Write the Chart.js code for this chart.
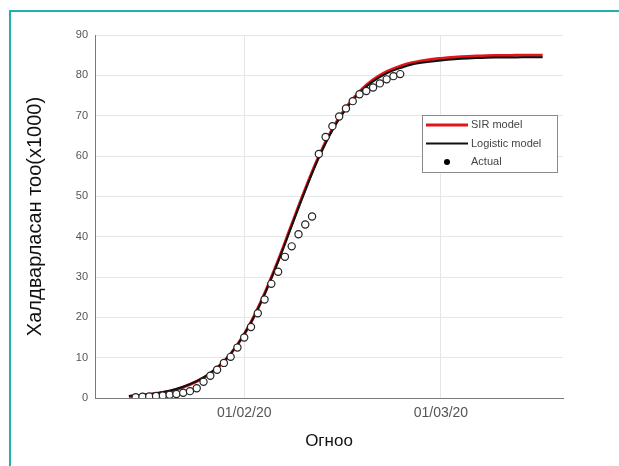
<!DOCTYPE html>
<html>
<head>
<meta charset="utf-8">
<script src="https://cdn.jsdelivr.net/npm/chart.js@4"></script>
<style>
  html, body { margin: 0; padding: 0; background: #fff; }
  #wrap { position: relative; width: 619px; height: 466px; overflow: hidden; }
  #frame { position: absolute; left: 9px; top: 10px; right: -5px; bottom: -5px;
           border-left: 2px solid #1fb0b0; border-top: 2px solid #1fb0b0; }
  canvas { position: absolute; left: 0; top: 0; }
</style>
</head>
<body>
<div id="wrap">
  <div id="frame"></div>
  <canvas id="chart" width="619" height="466"></canvas>
</div>
<script>
// Tage ab 1. Januar 2020 (0 = 01/01/20)
const actualDays = [15, 16, 17, 18, 19, 20, 21, 22, 23, 24, 25, 26, 27, 28, 29, 30, 31, 32, 33, 34,
  35, 36, 37, 38, 39, 40, 41, 42, 43, 44, 45, 46, 47, 48, 49, 50, 51, 52, 53, 54];
const actualValues = [0.2, 0.3, 0.4, 0.5, 0.6, 0.8, 1.0, 1.3, 1.7, 2.4, 4.0, 5.5, 7.0, 8.7, 10.2, 12.5, 15.0, 17.6, 21.0, 24.4,
  28.3, 31.3, 35.0, 37.6, 40.6, 43.0, 45.0, 60.5, 64.7, 67.4, 69.8, 71.8, 73.6, 75.3, 76.1, 77.0, 78.0, 79.0, 79.8, 80.3];

// Modellkurven
const modelDays = [14, 16, 18, 20, 22, 24, 26, 28, 30, 32, 34, 36, 38, 40, 42, 44, 46, 48, 50, 52,
  54, 56, 58, 60, 62, 64, 66, 68, 70, 72, 75];
const logisticValues = [0.5, 0.8, 1.2, 1.8, 2.8, 4.2, 6.2, 9.1, 13.2, 18.7, 25.7, 33.8, 42.7, 51.5, 59.6, 66.4, 71.7, 75.7, 78.5, 80.5,
  81.8, 82.8, 83.3, 83.7, 84.0, 84.2, 84.3, 84.4, 84.4, 84.5, 84.5];
const sirValues = [0.4, 0.7, 1.1, 1.7, 2.7, 4.1, 6.1, 9.0, 13.2, 18.8, 25.9, 34.1, 43.0, 51.8, 59.9, 66.7, 72.0, 76.0, 78.9, 80.9,
  82.3, 83.2, 83.8, 84.2, 84.5, 84.7, 84.8, 84.9, 84.9, 85.0, 85.0];

const tickDays = [31, 60];
const tickLabels = ['01/02/20', '01/03/20'];

const legendItems = [
  { label: 'SIR model', type: 'line', color: '#e3151a', width: 3 },
  { label: 'Logistic model', type: 'line', color: '#111111', width: 2 },
  { label: 'Actual', type: 'dot', color: '#000000' }
];

const toXY = (xs, ys) => xs.map((x, i) => ({ x: x, y: ys[i] }));

// Legende im Diagramm (wie MATLAB)
const boxLegend = {
  id: 'boxLegend',
  afterDraw(chart) {
    const ctx = chart.ctx;
    const a = chart.chartArea;
    const x0 = a.right - 141, y0 = a.top + 80, w = 135, h = 57;
    ctx.save();
    ctx.fillStyle = '#ffffff';
    ctx.fillRect(x0, y0, w, h);
    ctx.strokeStyle = '#8a8a8a';
    ctx.lineWidth = 1;
    ctx.strokeRect(x0 + 0.5, y0 + 0.5, w, h);
    ctx.font = '11px "Liberation Sans", Arial, sans-serif';
    ctx.textBaseline = 'middle';
    legendItems.forEach((it, i) => {
      const y = y0 + 10 + i * 18.5;
      if (it.type === 'line') {
        ctx.strokeStyle = it.color;
        ctx.lineWidth = it.width;
        ctx.beginPath();
        ctx.moveTo(x0 + 4, y);
        ctx.lineTo(x0 + 46, y);
        ctx.stroke();
      } else {
        ctx.fillStyle = it.color;
        ctx.beginPath();
        ctx.arc(x0 + 25, y, 3, 0, Math.PI * 2);
        ctx.fill();
      }
      ctx.fillStyle = '#444';
      ctx.fillText(it.label, x0 + 49, y);
    });
    ctx.restore();
  }
};

const ctx = document.getElementById('chart').getContext('2d');
const chart = new Chart(ctx, {
  type: 'line',
  data: {
    datasets: [
      {
        label: 'Actual',
        data: toXY(actualDays, actualValues),
        showLine: false,
        pointRadius: 3.6,
        pointBackgroundColor: '#ffffff',
        pointBorderColor: '#222222',
        pointBorderWidth: 1.2,
        order: 0
      },
      {
        label: 'Logistic model',
        data: toXY(modelDays, logisticValues),
        borderColor: '#111111',
        borderWidth: 2,
        pointRadius: 0,
        tension: 0.4,
        order: 1
      },
      {
        label: 'SIR model',
        data: toXY(modelDays, sirValues),
        borderColor: '#e3151a',
        borderWidth: 3,
        pointRadius: 0,
        tension: 0.4,
        order: 2
      }
    ]
  },
  options: {
    responsive: false,
    animation: false,
    layout: { padding: { top: 35, right: 56, left: 0, bottom: 0 } },
    plugins: { legend: { display: false }, tooltip: { enabled: false } },
    scales: {
      x: {
        type: 'linear',
        min: 9,
        max: 78,
        afterBuildTicks: (scale) => { scale.ticks = tickDays.map(v => ({ value: v })); },
        afterFit: (scale) => { scale.height = 68; },
        ticks: {
          autoSkip: false,
          maxRotation: 0,
          padding: 7,
          color: '#555',
          font: { family: '"Liberation Sans", Arial, sans-serif', size: 14 },
          callback: (v) => tickLabels[tickDays.indexOf(v)]
        },
        grid: { color: '#e6e6e6', drawTicks: false },
        border: { color: '#7a7a7a', width: 1 },
        title: {
          display: true,
          text: 'Огноо',
          color: '#111',
          font: { family: '"Liberation Sans", Arial, sans-serif', size: 17 },
          padding: { bottom: 14 }
        }
      },
      y: {
        min: 0,
        max: 90,
        afterFit: (scale) => { scale.width = 95; },
        ticks: {
          stepSize: 10,
          padding: 7,
          color: '#555',
          font: { family: '"Liberation Sans", Arial, sans-serif', size: 11 }
        },
        grid: { color: '#e6e6e6', drawTicks: false },
        border: { color: '#7a7a7a', width: 1 },
        title: {
          display: true,
          text: 'Халдварласан тоо(х1000)',
          color: '#111',
          font: { family: '"Liberation Sans", Arial, sans-serif', size: 20 },
          padding: { top: 23 }
        }
      }
    }
  },
  plugins: [boxLegend]
});
</script>
</body>
</html>
